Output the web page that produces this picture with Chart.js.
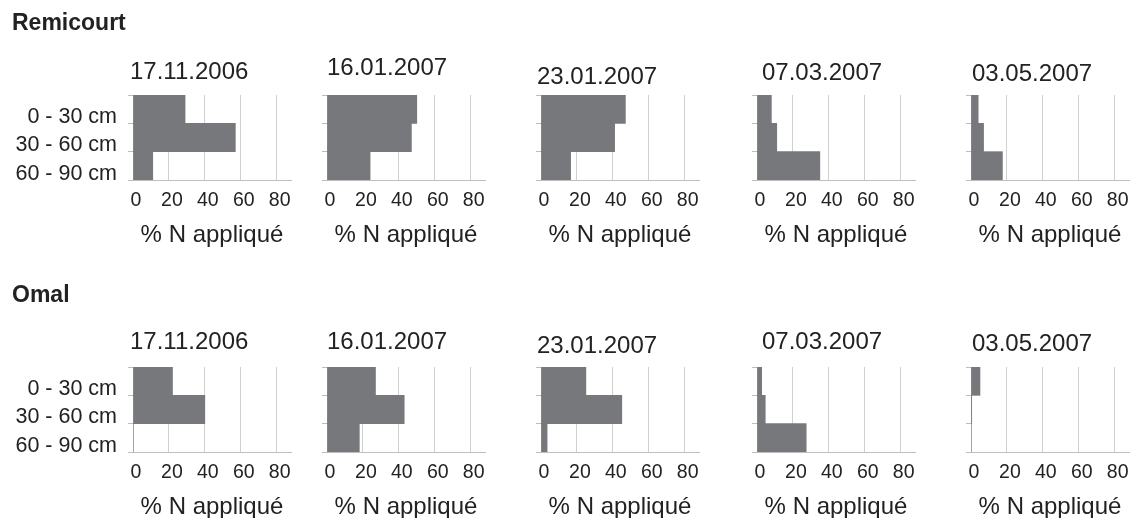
<!DOCTYPE html>
<html>
<head>
<meta charset="utf-8">
<script src="https://cdn.jsdelivr.net/npm/chart.js@4.4.0/dist/chart.umd.min.js"></script>
<style>
  html, body { margin: 0; padding: 0; background: #fff; width: 1137px; height: 518px; overflow: hidden; }
  canvas { position: absolute; }
</style>
</head>
<body>
<script>
// categories and labels
const depthLabels = ["0 - 30 cm", "30 - 60 cm", "60 - 90 cm"];
const dates = ["17.11.2006", "16.01.2007", "23.01.2007", "07.03.2007", "03.05.2007"];
const sites = ["Remicourt", "Omal"];
const xTicks = [0, 20, 40, 60, 80];
const axisTitle = "% N appliqué";

// % of applied N found in each soil layer, one array per sampling date
const remicourt1711 = [29, 57, 11];
const remicourt1601 = [50, 47, 24];
const remicourt2301 = [47, 41, 16.5];
const remicourt0703 = [8, 11, 35];
const remicourt0305 = [4, 7, 17.5];

const omal1711 = [22, 40, 0];
const omal1601 = [27, 43, 18];
const omal2301 = [25, 45, 3.4];
const omal0703 = [2.6, 4.6, 27.4];
const omal0305 = [5, 0.4, 0];

const siteValues = [
  [remicourt1711, remicourt1601, remicourt2301, remicourt0703, remicourt0305],
  [omal1711, omal1601, omal2301, omal0703, omal0305]
];

// layout (pixels)
const zeroX = [133, 327, 541, 757, 971];
const rowTop = [0, 272];
const titleY = [[72, 68, 77, 73, 74], [70, 70, 74, 70, 72]];
const titleDx = [-3, 0, -4, 5, 1];
const plotW = 158;
const barColor = "#77787b";
const textColor = "#222";
const fontFamily = '"Liberation Sans", Arial, Helvetica, sans-serif';

const panelText = {
  id: "panelText",
  afterDraw(chart, args, opts) {
    const ctx = chart.ctx;
    ctx.save();
    ctx.fillStyle = textColor;
    ctx.textBaseline = "middle";
    ctx.textAlign = "left";
    ctx.font = "24px " + fontFamily;
    ctx.fillText(opts.title, chart.chartArea.left + opts.dx, opts.y);
    if (opts.site) {
      ctx.font = "bold 23px " + fontFamily;
      ctx.fillText(opts.site, 12, 24);
    }
    ctx.restore();
  }
};

function drawPanel(row, col) {
  const first = col === 0;
  const yw = first ? 133 : 20;
  const canvas = document.createElement("canvas");
  canvas.width = yw + plotW + 12;
  canvas.height = 260;
  canvas.style.left = (zeroX[col] - yw) + "px";
  canvas.style.top = rowTop[row] + "px";
  document.body.appendChild(canvas);

  new Chart(canvas, {
    type: "bar",
    data: {
      labels: depthLabels,
      datasets: [{
        data: siteValues[row][col],
        backgroundColor: barColor,
        borderWidth: 0,
        barPercentage: 1,
        categoryPercentage: 1
      }]
    },
    options: {
      indexAxis: "y",
      responsive: false,
      animation: false,
      devicePixelRatio: 1,
      layout: { padding: { top: 95, right: 12, left: 0, bottom: 0 } },
      plugins: {
        legend: { display: false },
        tooltip: { enabled: false },
        panelText: {
          title: dates[col],
          dx: titleDx[col],
          y: titleY[row][col],
          site: first ? sites[row] : null
        }
      },
      scales: {
        x: {
          min: 0,
          max: 88,
          afterBuildTicks: s => { s.ticks = xTicks.map(v => ({ value: v })); },
          afterFit: s => { s.height = 80; },
          ticks: {
            font: { family: fontFamily, size: 19.5 },
            color: textColor,
            padding: 9,
            labelOffset: 3
          },
          grid: { color: "#d0d0d0", drawTicks: false },
          border: { color: "#bdbdbd" },
          title: {
            display: true,
            text: axisTitle,
            color: textColor,
            font: { family: fontFamily, size: 24 },
            padding: { top: 0, bottom: 10 }
          }
        },
        y: {
          afterFit: s => { s.width = yw; },
          grid: { offset: true, drawOnChartArea: false, tickLength: 5, color: "#bdbdbd" },
          border: { color: "#bdbdbd" },
          ticks: {
            display: first,
            autoSkip: false,
            font: { family: fontFamily, size: 21.5, lineHeight: 1 },
            color: textColor,
            padding: 11,
            labelOffset: 8
          }
        }
      }
    },
    plugins: [panelText]
  });
}

for (let r = 0; r < 2; r++) {
  for (let c = 0; c < 5; c++) drawPanel(r, c);
}
</script>
</body>
</html>
